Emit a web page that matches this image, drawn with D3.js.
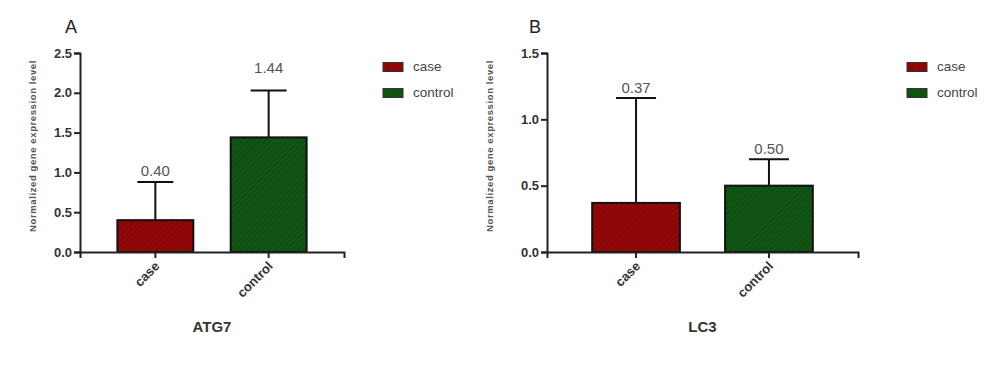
<!DOCTYPE html>
<html>
<head>
<meta charset="utf-8">
<script src="https://cdn.jsdelivr.net/npm/d3@7"></script>
<style>
  body { margin: 0; background: #fff; }
  svg { font-family: "Liberation Sans", Arial, sans-serif; }
</style>
</head>
<body>
<div id="chart-area"></div>
<script>
// Data
const categories = ["case", "control"]
const atg7Means = [0.40, 1.44]
const atg7Upper = [0.88, 2.03]
const atg7LabelAt = [0.95, 2.25]
const atg7Ticks = [0, 0.5, 1.0, 1.5, 2.0, 2.5]
const lc3Means = [0.37, 0.50]
const lc3Upper = [1.16, 0.70]
const lc3LabelAt = [1.20, 0.74]
const lc3Ticks = [0, 0.5, 1.0, 1.5]

const COLORS = { case: "#8c0505", control: "#0c4f10" }
const HATCH = { case: "#a01212", control: "#1d6420" }

const svg = d3.select("#chart-area").append("svg")
    .attr("width", 1000)
    .attr("height", 372)

// hatch patterns
const defs = svg.append("defs")
categories.forEach(c => {
    const p = defs.append("pattern")
        .attr("id", "hatch-" + c)
        .attr("patternUnits", "userSpaceOnUse")
        .attr("width", 4).attr("height", 4)
        .attr("patternTransform", "rotate(45)")
    p.append("rect").attr("width", 4).attr("height", 4).attr("fill", COLORS[c])
    p.append("line").attr("x1", 0).attr("y1", 0).attr("x2", 0).attr("y2", 4)
        .attr("stroke", HATCH[c]).attr("stroke-width", 1.2)
})

function panel(opts) {
    const g = svg.append("g")
        .attr("transform", `translate(${opts.left}, 0)`)

    const x = d3.scaleBand()
        .domain(categories)
        .range([0, opts.width])
        .paddingInner(opts.pad)
        .paddingOuter(opts.pad)

    const y = d3.scaleLinear()
        .domain([0, opts.max])
        .range([252, 53])

    // bars
    g.selectAll("rect.bar").data(categories).enter().append("rect")
        .attr("class", "bar")
        .attr("x", d => x(d))
        .attr("width", x.bandwidth())
        .attr("y", (d, i) => y(opts.means[i]))
        .attr("height", (d, i) => y(0) - y(opts.means[i]))
        .attr("fill", d => `url(#hatch-${d})`)
        .attr("stroke", "#111")
        .attr("stroke-width", 2)

    // error bars
    const cx = d => x(d) + x.bandwidth() / 2
    g.selectAll("line.err").data(categories).enter().append("line")
        .attr("x1", cx).attr("x2", cx)
        .attr("y1", (d, i) => y(opts.means[i]))
        .attr("y2", (d, i) => y(opts.upper[i]))
        .attr("stroke", "#111").attr("stroke-width", 2)
    g.selectAll("line.cap").data(categories).enter().append("line")
        .attr("x1", d => cx(d) - opts.cap).attr("x2", d => cx(d) + opts.cap)
        .attr("y1", (d, i) => y(opts.upper[i]))
        .attr("y2", (d, i) => y(opts.upper[i]))
        .attr("stroke", "#111").attr("stroke-width", 2)

    // value labels
    g.selectAll("text.val").data(categories).enter().append("text")
        .attr("x", cx)
        .attr("y", (d, i) => y(opts.labelAt[i]))
        .attr("text-anchor", "middle")
        .attr("font-size", "15px")
        .attr("fill", "#555")
        .text((d, i) => opts.means[i].toFixed(2))

    // Y Axis
    const yAxis = g.append("g")
        .call(d3.axisLeft(y).tickValues(opts.ticks).tickFormat(d3.format(".1f")).tickSizeOuter(0).tickSize(6).tickPadding(2))
    yAxis.select(".domain").attr("stroke", "#222").attr("stroke-width", 2)
    yAxis.selectAll(".tick line").attr("stroke", "#222").attr("stroke-width", 2)
    yAxis.selectAll(".tick text")
        .attr("font-size", "13px").attr("font-weight", "bold").attr("fill", "#333")
        .attr("font-family", "'Liberation Sans Narrow', 'Liberation Sans', Arial, sans-serif")

    // X Axis
    const xAxis = g.append("g")
        .attr("transform", `translate(0, 252)`)
        .call(d3.axisBottom(x).tickSizeOuter(0).tickSize(6))
    xAxis.select(".domain").attr("stroke", "#222").attr("stroke-width", 2)
    xAxis.selectAll(".tick line").attr("stroke", "#222").attr("stroke-width", 2)
    xAxis.selectAll(".tick text")
        .attr("font-size", "13px").attr("font-weight", "bold").attr("fill", "#333")
        .attr("text-anchor", "end")
        .attr("dy", null)
        .attr("y", 0)
        .attr("transform", "translate(5, 15) rotate(-45)")

    // labels
    g.append("text")
        .attr("x", -opts.left + opts.letterX)
        .attr("y", 33)
        .attr("font-size", "18px")
        .attr("fill", "#222")
        .attr("text-anchor", "middle")
        .text(opts.letter)
    g.append("text")
        .attr("transform", "rotate(-90)")
        .attr("x", -146)
        .attr("y", -opts.yLabelOff)
        .attr("font-size", "9.5px")
        .attr("font-weight", "bold")
        .attr("letter-spacing", "0.6px")
        .attr("fill", "#555")
        .attr("text-anchor", "middle")
        .attr("dominant-baseline", "middle")
        .text("Normalized gene expression level")
    g.append("text")
        .attr("x", (cx(categories[0]) + cx(categories[1])) / 2)
        .attr("y", 332)
        .attr("font-size", "15px")
        .attr("font-weight", "bold")
        .attr("fill", "#333")
        .attr("text-anchor", "middle")
        .text(opts.title)

    // legend
    const lg = svg.append("g").attr("transform", `translate(${opts.legendX}, 67)`)
    categories.forEach((c, i) => {
        lg.append("rect")
            .attr("x", 0).attr("y", i * 26 - 4.5)
            .attr("width", 20).attr("height", 9)
            .attr("fill", `url(#hatch-${c})`)
            .attr("stroke", "#333").attr("stroke-width", 1)
        lg.append("text")
            .attr("x", 30).attr("y", i * 26)
            .attr("dominant-baseline", "middle")
            .attr("font-size", "13.5px")
            .attr("fill", "#444")
            .text(c)
    })
}

panel({
    left: 80, width: 264, pad: 0.33, max: 2.5, cap: 18,
    means: atg7Means, upper: atg7Upper, labelAt: atg7LabelAt, ticks: atg7Ticks,
    letter: "A", letterX: 71, yLabelOff: 47, title: "ATG7", legendX: 383
})
panel({
    left: 547, width: 311, pad: 0.34, max: 1.5, cap: 20,
    means: lc3Means, upper: lc3Upper, labelAt: lc3LabelAt, ticks: lc3Ticks,
    letter: "B", letterX: 535, yLabelOff: 57, title: "LC3", legendX: 907
})
</script>
</body>
</html>
